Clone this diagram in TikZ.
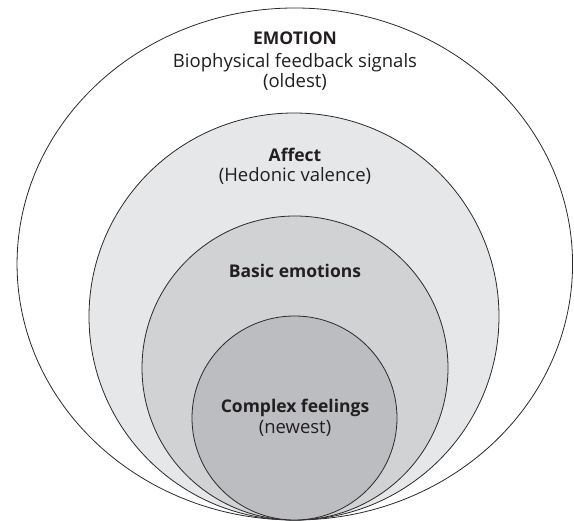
\documentclass[tikz,border=0pt]{standalone}
\usepackage{fontspec}
\setmainfont{Open Sans}
\usetikzlibrary{shapes.geometric}

\definecolor{edgegray}{HTML}{2B2A2B}
\definecolor{textgray}{HTML}{231F20}
\definecolor{affectfill}{HTML}{E6E7E8}
\definecolor{basicfill}{HTML}{D1D2D4}
\definecolor{complexfill}{HTML}{BCBDC0}

\begin{document}
\begin{tikzpicture}[x=1pt,y=-1pt,
    ring/.style={ellipse,draw=edgegray,line width=0.8pt,inner sep=0pt,outer sep=0pt},
    txt/.style={anchor=base,inner sep=0pt,text=textgray,font=\fontsize{18.5}{22}\selectfont},
    head/.style={txt,font=\fontsize{17.5}{21}\selectfont\bfseries}]
        \useasboundingbox (0,0) rectangle (574,521);
        % nested rings, all touching at the bottom
        \node[ring,fill=white,minimum width=555.5pt,minimum height=512pt] (emotion) at (294.8,264) {};
        \node[ring,fill=affectfill,minimum width=410pt,minimum height=407pt] (affect) at (294,316.5) {};
        \node[ring,fill=basicfill,minimum width=306pt,minimum height=304pt] (basic) at (295,368) {};
        \node[ring,fill=complexfill,minimum width=205pt,minimum height=204pt] (complex) at (294.5,418) {};

        % labels
        \node[head] (emotionHead) at (295,45) {EMOTION};
        \node[txt] (emotionText) at (295,68) {Biophysical feedback signals};
        \node[txt] (emotionAge) at (295,88) {(oldest)};
        \node[head] (affectHead) at (295,161.5) {Affect};
        \node[txt] (affectText) at (295,181.5) {(Hedonic valence)};
        \node[head] (basicHead) at (295,278) {Basic emotions};
        \node[head] (complexHead) at (295,413) {Complex feelings};
        \node[txt] (complexAge) at (295,434) {(newest)};
      \end{tikzpicture}
\end{document}
